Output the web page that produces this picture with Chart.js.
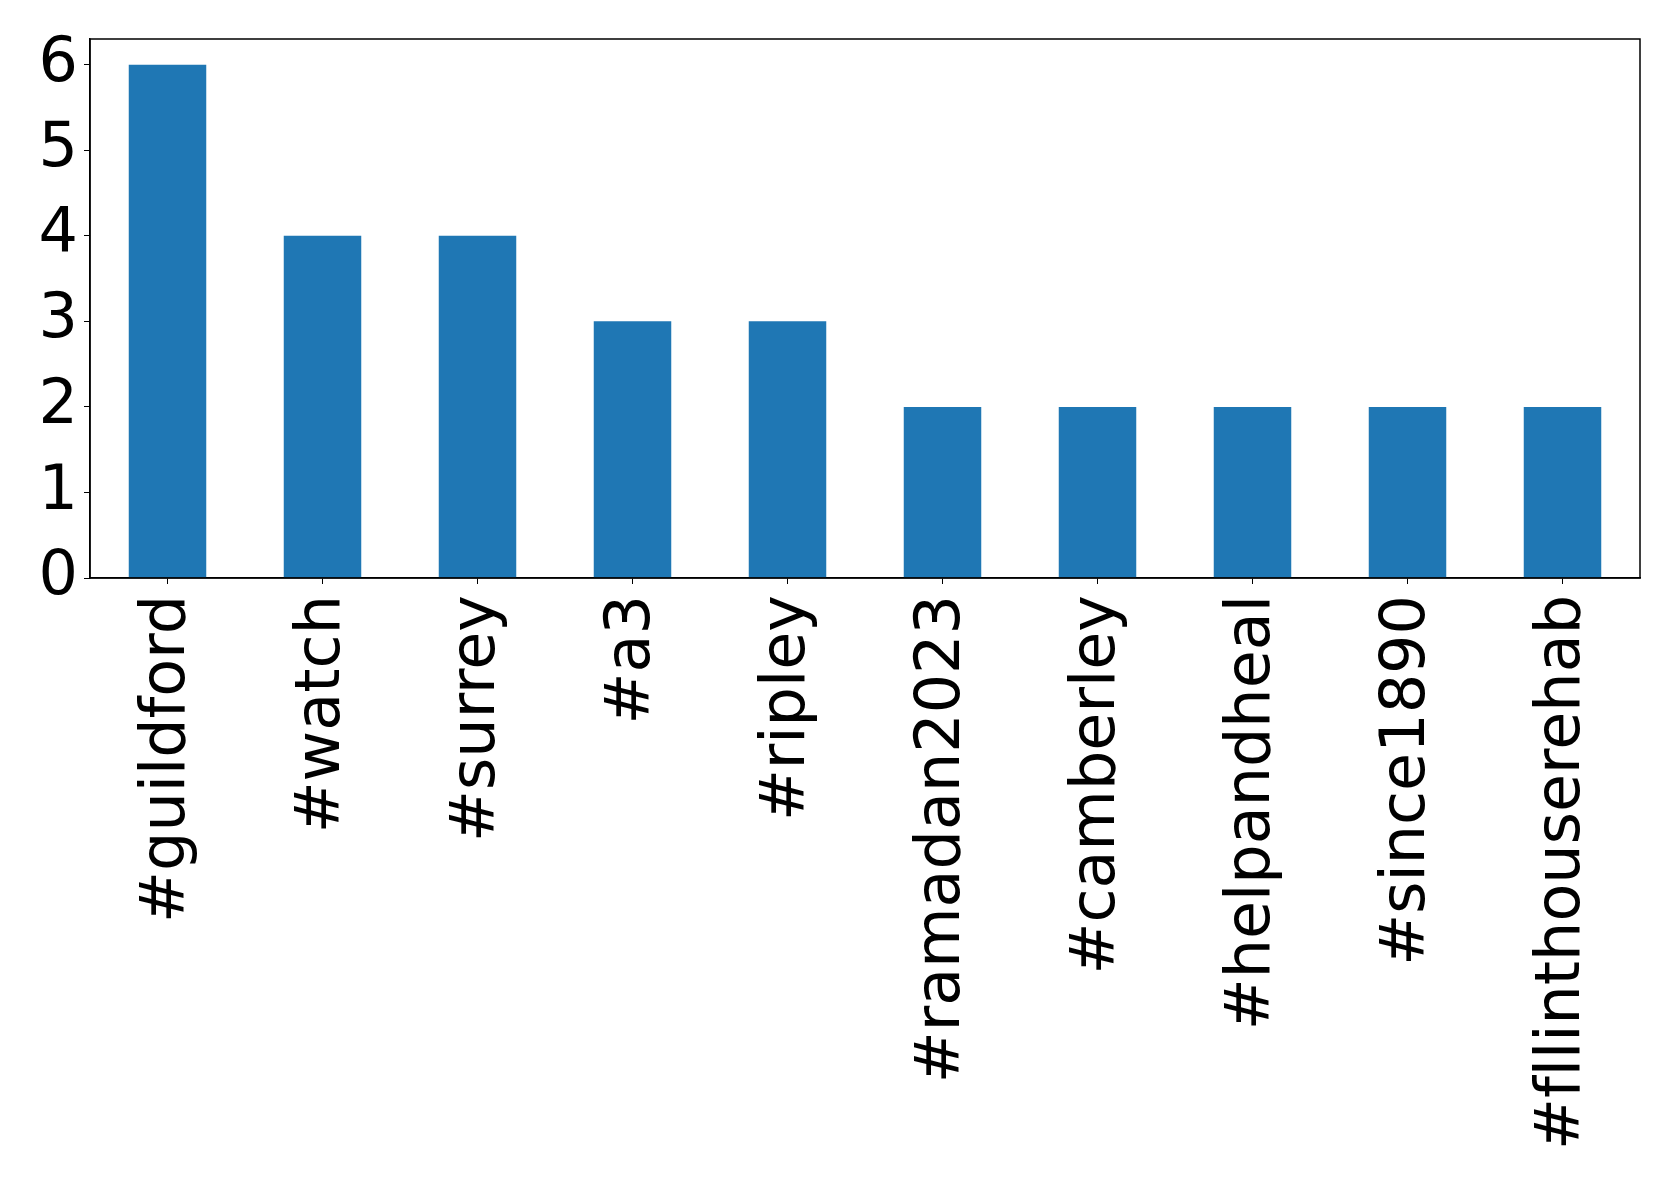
<!DOCTYPE html>
<html>
<head>
<meta charset="utf-8">
<script src="https://cdn.jsdelivr.net/npm/chart.js@4/dist/chart.umd.min.js"></script>
<style>
  html, body { margin: 0; padding: 0; background: #fff; }
  #wrap { width: 1679px; height: 1187px; }
</style>
</head>
<body>
<div id="wrap"><canvas id="chart"></canvas></div>
<script>
// hashtag counts
// (the zero-width non-joiner keeps the browser from drawing an "fl" ligature)
var hashtags = ['#guildford', '#watch', '#surrey', '#a3', '#ripley',
                '#ramadan2023', '#camberley', '#helpandheal', '#since1890', '#f\u200Cllinthouserehab'];
var counts = [6, 4, 4, 3, 3, 2, 2, 2, 2, 2];
var yTicks = [0, 1, 2, 3, 4, 5, 6];

// draws the box round the plot area, like matplotlib's spines
var frame = {
	id: 'frame',
	afterDraw: function(chart) {
		var a = chart.chartArea, ctx = chart.ctx;
		ctx.save();
		ctx.strokeStyle = '#000';
		ctx.lineWidth = 1.5;
		ctx.strokeRect(a.left, a.top, a.right - a.left, a.bottom - a.top);
		ctx.restore();
	}
};

new Chart(document.getElementById('chart'), {
	type: 'bar',
	data: {
		labels: hashtags,
		datasets: [{
			data: counts,
			backgroundColor: '#1f77b4',
			categoryPercentage: 1,
			barPercentage: 0.5
		}]
	},
	options: {
		responsive: true,
		maintainAspectRatio: false,
		animation: false,
		layout: { padding: { top: 39, right: 39, left: 0, bottom: 0 } },
		plugins: { legend: { display: false }, tooltip: { enabled: false } },
		scales: {
			x: {
				grid: { drawOnChartArea: false, tickLength: 6, color: '#000', offset: false },
				border: { color: '#000', width: 1.5 },
				ticks: {
					color: '#000',
					font: { family: 'DejaVu Sans', size: 62 },
					minRotation: 90,
					maxRotation: 90,
					autoSkip: false,
					padding: 11
				},
				afterFit: function(scale) {
					scale.height = 609;
					scale.paddingLeft = 0;
					scale.paddingRight = 0;
				}
			},
			y: {
				min: 0,
				max: 6.3,
				grid: { drawOnChartArea: false, tickLength: 6, color: '#000' },
				border: { color: '#000', width: 1.5 },
				afterBuildTicks: function(scale) {
					scale.ticks = yTicks.map(function(v) { return { value: v }; });
				},
				ticks: {
					color: '#000',
					font: { family: 'DejaVu Sans', size: 62 },
					padding: 6
				},
				afterFit: function(scale) {
					scale.width = 90;
					scale.paddingTop = 0;
					scale.paddingBottom = 0;
				}
			}
		}
	},
	plugins: [frame]
});
</script>
</body>
</html>
